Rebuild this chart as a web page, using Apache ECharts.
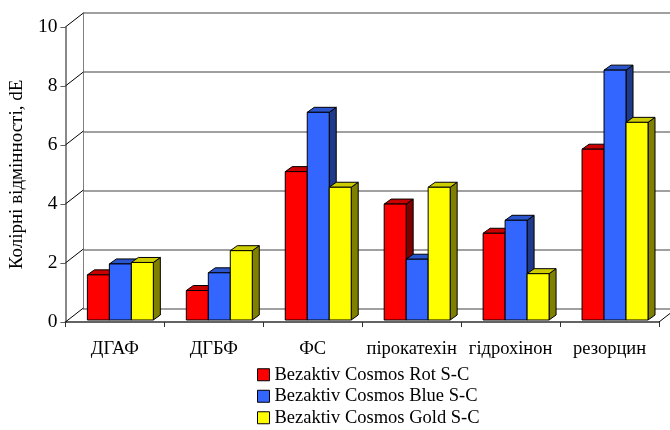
<!DOCTYPE html>
<html><head><meta charset="utf-8">
<script src="https://cdn.jsdelivr.net/npm/echarts@6/dist/echarts.min.js"></script>
<style>html,body{margin:0;padding:0;background:#fff}#c{width:670px;height:430px}</style>
</head><body><div id="c"></div>
<script>
const categories = ['ДГАФ','ДГБФ','ФС','пірокатехін','гідрохінон','резорцин'];
const rotValues  = [1.53, 1.0, 5.03, 3.93, 2.94, 5.79];
const blueValues = [1.9, 1.6, 7.04, 2.06, 3.38, 8.47];
const goldValues = [1.95, 2.35, 4.5, 4.5, 1.57, 6.7];
const seriesNames = ['Bezaktiv Cosmos Rot S-C','Bezaktiv Cosmos Blue S-C','Bezaktiv Cosmos Gold S-C'];
const yTicks = [0, 2, 4, 6, 8, 10];

const DX = 18, DY = -14;       // wall depth
const BW = 22, BDX = 7, BDY = -5; // bar width & depth
const palette = [
  {front:'#FF0000', top:'#C80000', side:'#800000'},
  {front:'#3366FF', top:'#2A55CC', side:'#1F3A88'},
  {front:'#FFFF00', top:'#CCCC00', side:'#808000'}
];
const FONT = 'Liberation Serif';

function barRender(si) {
  return function (params, api) {
    const c = api.value(0), v = api.value(1);
    const top = api.coord([c, v]);
    const base = api.coord([c, 0]);
    const bw = api.size([1, 0])[0];
    const w = BW * bw / 99;
    const x0 = top[0] - bw / 2 + w + si * w;
    const yt = top[1] - 2, yb = base[1] - 2;
    const p = palette[si];
    const st = {stroke:'#000', lineWidth:1};
    return {
      type: 'group',
      children: [
        {type:'polygon', shape:{points:[[x0+w,yt],[x0+w+BDX,yt+BDY],[x0+w+BDX,yb+BDY],[x0+w,yb]]}, style:Object.assign({fill:p.side}, st)},
        {type:'polygon', shape:{points:[[x0,yt],[x0+BDX,yt+BDY],[x0+w+BDX,yt+BDY],[x0+w,yt]]}, style:Object.assign({fill:p.top}, st)},
        {type:'rect', shape:{x:x0, y:yt, width:w, height:yb-yt}, style:Object.assign({fill:p.front}, st)}
      ]
    };
  };
}

function wallRender(params, api) {
  const t = api.value(1);
  const cs = params.coordSys;
  const y = api.coord([0, t])[1];
  const children = [
    {type:'line', shape:{x1:cs.x, y1:y, x2:cs.x+DX, y2:y+DY}, style:{stroke:'#000', lineWidth:1}}
  ];
  if (t === 0) {
    children.push({type:'line', shape:{x1:cs.x+cs.width, y1:y, x2:cs.x+cs.width+DX, y2:y+DY}, style:{stroke:'#000', lineWidth:1}});
  }
  return {type:'group', children};
}

const valuesList = [rotValues, blueValues, goldValues];
const chart = echarts.init(document.getElementById('c'), null, {renderer:'canvas'});
chart.setOption({
  animation: false,
  backgroundColor: '#fff',
  textStyle: {fontFamily: FONT},
  grid: [
    {left:65, right:11, top:27, bottom:108},
    {left:83, right:0, top:13, bottom:121}
  ],
  xAxis: [
    {type:'category', gridIndex:0, data:categories,
     axisLine:{show:true, lineStyle:{color:'#303030', width:1.5}},
     axisTick:{show:true, length:5, lineStyle:{color:'#303030'}},
     axisLabel:{color:'#000', fontSize:18.5, fontFamily:FONT, margin:18, interval:0},
     splitLine:{show:false}},
    {type:'category', gridIndex:1, data:categories, show:false}
  ],
  yAxis: [
    {type:'value', gridIndex:0, min:0, max:10, interval:2,
     name:'Колірні відмінності, dE', nameLocation:'middle', nameGap:32,
     nameTextStyle:{color:'#000', fontSize:19, fontFamily:FONT},
     axisLine:{show:true, lineStyle:{color:'#606060', width:1.5}},
     axisTick:{show:true, length:5, lineStyle:{color:'#606060'}},
     axisLabel:{color:'#000', fontSize:19.5, fontFamily:FONT, margin:8},
     splitLine:{show:false}},
    {type:'value', gridIndex:1, min:0, max:10, interval:2,
     axisLine:{show:true, lineStyle:{color:'#808080', width:1}},
     axisTick:{show:false}, axisLabel:{show:false},
     splitLine:{show:true, lineStyle:{color:'#808080', width:1.5}}}
  ],
  legend: {
    orient:'vertical', left:257, top:364, padding:0, itemWidth:12, itemHeight:12, itemGap:0,
    textStyle:{color:'#000', fontSize:18.5, lineHeight:21.5, fontFamily:FONT},
    data: seriesNames.map((n, i) => ({name:n, icon:'rect', itemStyle:{color:palette[i].front, borderColor:'#000', borderWidth:1}}))
  },
  series: [
    {type:'custom', xAxisIndex:0, yAxisIndex:0, silent:true, z:1,
     data: yTicks.map(t => [0, t]), renderItem: wallRender, encode:{x:0, y:1}},
    ...seriesNames.map((n, si) => ({
      type:'custom', name:n, xAxisIndex:0, yAxisIndex:0, z:5,
      itemStyle:{color:palette[si].front},
      data: categories.map((c, i) => [i, valuesList[si][i]]),
      encode:{x:0, y:1},
      renderItem: barRender(si)
    }))
  ]
});
</script>
</body></html>
